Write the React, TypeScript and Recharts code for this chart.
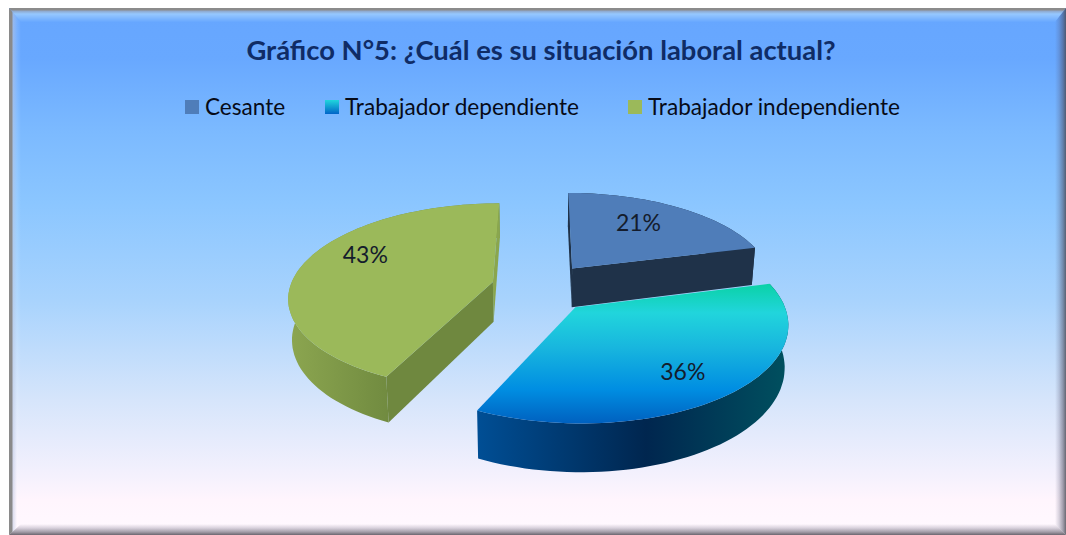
import React from "react";
import { PieChart, Pie, Cell, Legend } from "recharts";

const titleText = "Gráfico N°5: ¿Cuál es su situación laboral actual?";
const categories = ["Cesante", "Trabajador dependiente", "Trabajador independiente"];
const shares = [21, 36, 43];
const data = categories.map((name, i) => ({ name, value: shares[i] }));

const topFills = ["#4f7db9", "url(#topBlue)", "#9bb95a"];
const legendFills = ["#4f7db9", "url(#legendBlue)", "#9bb95a"];
const wallFills = ["#1f3249", "url(#wallBlue)", "url(#wallGreen)"];
// faces left by the cut of each slice; null = turned away from the viewer
const cutFills = [
  ["#1f3249", "#1f3249"],
  [null, null],
  ["#6f883f", "#8aa64e"],
];
// label placement tweaks: [radius fraction, degrees added to the mid angle]
const labelPlacement = [
  [0.7, -5],
  [0.74, 2],
  [0.75, 13],
];
const legendItemWidths = [140, 303, 300];

const FONT = "Lato, 'Open Sans', sans-serif";
const K = 0.15, FLAT = 0.4537, DEPTH = 40, EX = 0.25, EY = 0.27;
const rad = (d: number) => (d * Math.PI) / 180;

function project(cx: number, cy: number, R: number, theta: number, r: number, mid: number, low = false) {
  const X = Math.sin(rad(mid)) * EX + r * Math.sin(rad(theta));
  const Y = -Math.cos(rad(mid)) * EY - r * Math.cos(rad(theta));
  const s = 1 / (1 - K * Y);
  let px = cx + R * X * s;
  let py = cy + R * FLAT * Y * s;
  if (low) {
    py += DEPTH * s;
    px = cx + (px - cx) * 0.985;
  }
  return [px, py];
}

function fmt(pts: number[][]) {
  return "M" + pts.map((p) => `${p[0].toFixed(1)},${p[1].toFixed(1)}`).join("L") + "Z";
}

function Slice3D(props: any) {
  const { cx, cy, outerRadius: R, startAngle, endAngle, index } = props;
  const a0 = 90 - startAngle;
  const a1 = 90 - endAngle;
  const mid = (a0 + a1) / 2;
  const arc: number[] = [];
  const n = Math.ceil((a1 - a0) / 2);
  for (let i = 0; i <= n; i++) arc.push(a0 + ((a1 - a0) * i) / n);
  const P = (t: number, r: number, low = false) => project(cx, cy, R, t, r, mid, low);
  const top = [P(a0, 0), ...arc.map((t) => P(t, 1))];
  const wall = [...arc.map((t) => P(t, 1)), ...arc.slice().reverse().map((t) => P(t, 1, true))];
  const cutStart = [P(a0, 0), P(a0, 1), P(a0, 1, true), P(a0, 0, true)];
  const cutEnd = [P(a1, 0), P(a1, 1), P(a1, 1, true), P(a1, 0, true)];
  const [fillStart, fillEnd] = cutFills[index];
  return (
    <g>
      <path d={fmt(wall)} fill={wallFills[index]} />
      {fillEnd && <path d={fmt(cutEnd)} fill={fillEnd} />}
      {fillStart && <path d={fmt(cutStart)} fill={fillStart} />}
      <path d={fmt(top)} fill={topFills[index]} />
    </g>
  );
}

function SliceLabel(props: any) {
  const { cx, cy, outerRadius: R, midAngle, percent, index } = props;
  const mid = 90 - midAngle;
  const [r, shift] = labelPlacement[index];
  const [x, y] = project(cx, cy, R, mid + shift, r, mid);
  return (
    <text x={x} y={y} textAnchor="middle" dominantBaseline="central" fontFamily={FONT} fontSize={23} fill="#141c2c">
      {`${Math.round(percent * 100)}%`}
    </text>
  );
}

function LegendRow({ payload }: any) {
  return (
    <div style={{ display: "flex", alignItems: "center", fontFamily: FONT, fontSize: 22.6, lineHeight: "26px", color: "#070b18", whiteSpace: "nowrap" }}>
      {(payload || []).map((item: any, i: number) => (
        <div key={item.value} style={{ display: "flex", alignItems: "center", width: legendItemWidths[i] }}>
          <svg width={14} height={14} style={{ marginRight: 6 }}>
            <defs>
              <linearGradient id="legendBlue" x1="0" y1="0" x2="0" y2="1">
                <stop offset="0" stopColor="#20d6dc" />
                <stop offset="1" stopColor="#0064c8" />
              </linearGradient>
            </defs>
            <rect width={14} height={14} fill={legendFills[i]} />
          </svg>
          <span>{item.value}</span>
        </div>
      ))}
    </div>
  );
}

const frame: React.CSSProperties = { position: "absolute", left: 9, top: 8, width: 1057, height: 527 };

export default function App() {
  return (
    <div style={{ position: "absolute", left: 0, top: 0, width: 1066, height: 535, background: "#fff", overflow: "hidden" }}>
      <div
        style={{
          ...frame,
          background:
            "linear-gradient(180deg,#66a6ff 0px,#68a8ff 50px,#7cbaff 125px,#8bc6ff 195px,#a8d3fd 292px,#d6e5fb 392px,#f2f0fd 462px,#fff5fd 492px,#fff9ff 527px)",
        }}
      />
      <div style={{ ...frame, height: 14, clipPath: "polygon(0 0,100% 0,calc(100% - 11px) 100%,12px 100%)", background: "linear-gradient(180deg,#8b8b8b 0,#8b8b8b 2px,#8fa8cc 3px,#96c8ff 6px,#80b8ff 10px,#68a8ff 14px)" }} />
      <div style={{ ...frame, width: 12, clipPath: "polygon(0 0,100% 14px,100% calc(100% - 11px),0 100%)", background: "linear-gradient(90deg,#8a8a8a 0,#8a8a8a 3px,rgba(190,200,225,.55) 4px,rgba(255,255,255,.12) 8px,rgba(255,255,255,0) 12px)" }} />
      <div style={{ ...frame, left: 1055, width: 11, clipPath: "polygon(0 14px,100% 0,100% 100%,0 calc(100% - 11px))", background: "linear-gradient(270deg,rgba(70,70,80,.8) 0,rgba(70,70,90,.5) 3px,rgba(80,80,110,.22) 7px,rgba(80,80,110,0) 11px)" }} />
      <div style={{ ...frame, top: 524, height: 11, clipPath: "polygon(12px 0,calc(100% - 11px) 0,100% 100%,0 100%)", background: "linear-gradient(0deg,rgba(70,65,75,.8) 0,rgba(70,65,80,.5) 3px,rgba(80,70,100,.22) 7px,rgba(80,70,100,0) 11px)" }} />

      <div style={{ position: "absolute", left: 0, top: 32, width: 1082, textAlign: "center", fontFamily: FONT, fontWeight: 700, fontSize: 27.4, lineHeight: "36px", color: "#0f2c66", whiteSpace: "nowrap" }}>
        {titleText}
      </div>

      <div style={{ position: "absolute", left: 0, top: 0 }}>
        <PieChart width={1066} height={535} margin={{ top: 0, right: 0, bottom: 0, left: 0 }} style={{ background: "transparent" }}>
          <defs>
            <linearGradient id="topBlue" gradientUnits="userSpaceOnUse" x1="0" y1="285" x2="0" y2="424">
              <stop offset="0" stopColor="#0bd2a8" />
              <stop offset="0.2" stopColor="#21d5dc" />
              <stop offset="0.45" stopColor="#18b6de" />
              <stop offset="0.75" stopColor="#008ee2" />
              <stop offset="1" stopColor="#0060bf" />
            </linearGradient>
            <linearGradient id="wallBlue" gradientUnits="userSpaceOnUse" x1="474" y1="0" x2="787" y2="0">
              <stop offset="0" stopColor="#004f96" />
              <stop offset="0.55" stopColor="#00264f" />
              <stop offset="1" stopColor="#00505f" />
            </linearGradient>
            <linearGradient id="wallGreen" gradientUnits="userSpaceOnUse" x1="288" y1="0" x2="388" y2="0">
              <stop offset="0" stopColor="#8ca650" />
              <stop offset="1" stopColor="#718b40" />
            </linearGradient>
          </defs>
          <Legend
            verticalAlign="top"
            align="left"
            content={<LegendRow />}
            wrapperStyle={{ position: "absolute", left: 185, top: 94, width: "auto" }}
          />
          <Pie
            data={data}
            dataKey="value"
            nameKey="name"
            cx={542}
            cy={261.5}
            outerRadius={203}
            startAngle={90}
            endAngle={-270}
            stroke="none"
            shape={<Slice3D />}
            label={<SliceLabel />}
            labelLine={false}
            isAnimationActive={false}
          >
            {data.map((d, i) => (
              <Cell key={d.name} fill={legendFills[i]} />
            ))}
          </Pie>
        </PieChart>
      </div>
    </div>
  );
}
